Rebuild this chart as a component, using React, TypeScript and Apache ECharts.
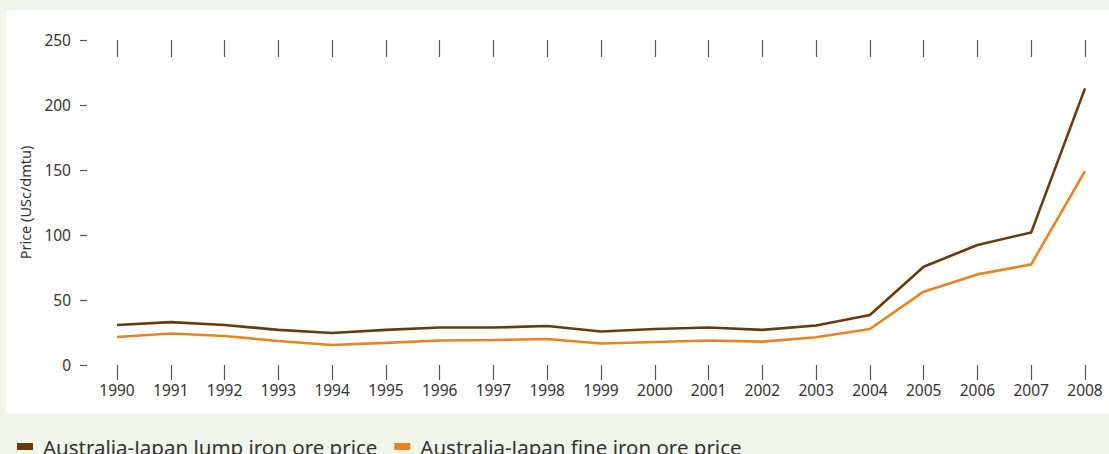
import React, { useEffect, useRef } from "react";
import * as echarts from "echarts";

const years = ["1990","1991","1992","1993","1994","1995","1996","1997","1998","1999","2000","2001","2002","2003","2004","2005","2006","2007","2008"];
const lumpPrice = [30.8,33,30.8,27,24.6,27,28.8,28.8,30,25.8,27.7,28.8,27,30.4,38.5,75.6,92.3,102,212.8];
const finePrice = [21.5,24.2,22.3,18.5,15.4,17,18.8,19.2,20,16.5,17.7,18.8,18,21.3,27.7,56.4,69.7,77.4,149.2];
const yTicks = { min: 0, max: 250, interval: 50 };
const seriesNames = ["Australia-Japan lump iron ore price", "Australia-Japan fine iron ore price"];

const FONT = "'Noto Sans', sans-serif";

export default function App() {
  const ref = useRef<HTMLDivElement>(null);
  useEffect(() => {
    if (!ref.current) return;
    const chart = echarts.init(ref.current, undefined, { renderer: "svg" });
    chart.setOption({
      animation: false,
      backgroundColor: "#f1f6ec",
      textStyle: { fontFamily: FONT },
      graphic: [
        { type: "rect", z: -10, shape: { x: 6, y: 10, width: 1103, height: 403 }, style: { fill: "#ffffff" }, silent: true },
      ],
      grid: { left: 117, right: 24, top: 40, bottom: 89, containLabel: false, outerBoundsMode: "none" },
      legend: {
        left: 12,
        top: 431,
        icon: "rect",
        itemWidth: 16,
        itemHeight: 7,
        itemGap: 17,
        textStyle: { fontSize: 20.5, color: "#333333", fontFamily: FONT, padding: [0, 0, 0, 5] },
        data: seriesNames,
      },
      xAxis: [
        {
          type: "category",
          data: years,
          boundaryGap: false,
          position: "bottom",
          axisLine: { show: false },
          axisTick: { show: true, length: 15, lineStyle: { color: "#555", width: 1.2 } },
          axisLabel: { color: "#333", fontSize: 15.5, margin: 17, fontFamily: FONT },
          splitLine: { show: false },
        },
        {
          type: "category",
          data: years,
          boundaryGap: false,
          position: "top",
          axisLine: { show: false },
          axisTick: { show: true, inside: true, length: 17, lineStyle: { color: "#555", width: 1.2 } },
          axisLabel: { show: false },
          splitLine: { show: false },
        },
      ],
      yAxis: {
        type: "value",
        min: yTicks.min,
        max: yTicks.max,
        interval: yTicks.interval,
        offset: 30,
        name: "Price (USc/dmtu)",
        nameLocation: "middle",
        nameGap: 55,
        nameTextStyle: { color: "#333", fontSize: 14.5, fontFamily: FONT },
        axisLine: { show: false },
        axisTick: { show: true, length: 7, lineStyle: { color: "#555", width: 1.2 } },
        axisLabel: { color: "#333", fontSize: 15.5, margin: 16, fontFamily: FONT },
        splitLine: { show: false },
      },
      series: [
        {
          name: seriesNames[0],
          type: "line",
          data: lumpPrice,
          symbol: "none",
          lineStyle: { color: "#6b3a0c", width: 2.6 },
          itemStyle: { color: "#6b3a0c" },
        },
        {
          name: seriesNames[1],
          type: "line",
          data: finePrice,
          symbol: "none",
          lineStyle: { color: "#ea8220", width: 2.6 },
          itemStyle: { color: "#ea8220" },
        },
      ],
    });
    return () => chart.dispose();
  }, []);
  return <div ref={ref} style={{ position: "fixed", left: 0, top: 0, width: 1109, height: 454 }} />;
}
